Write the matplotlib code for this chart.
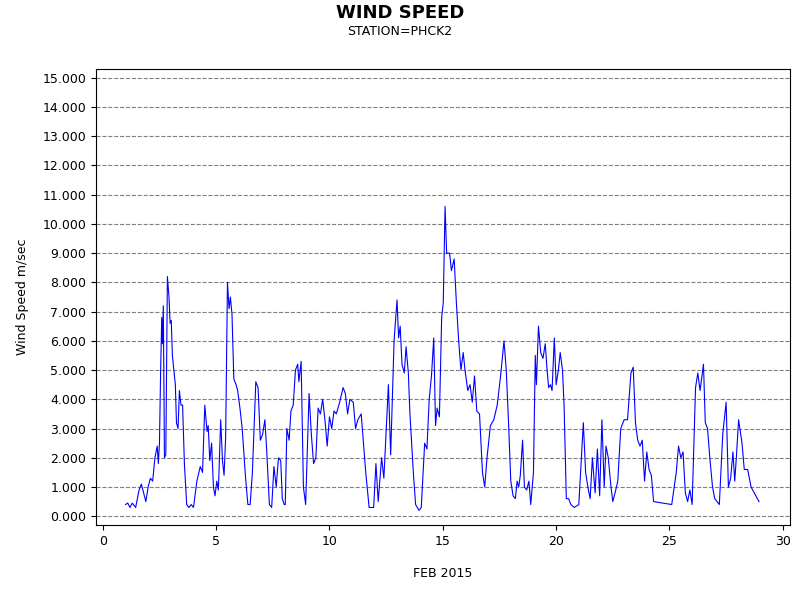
import numpy as np
import matplotlib.pyplot as plt

# (day, wind speed m/s)
points = [
    (1.0, 0.4), (1.1, 0.45), (1.2, 0.3), (1.3, 0.45), (1.45, 0.3), (1.6, 0.9), (1.7, 1.1),
    (1.8, 0.8), (1.9, 0.5), (2.0, 1.0), (2.1, 1.3), (2.2, 1.2), (2.3, 2.0), (2.4, 2.4),
    (2.45, 1.8), (2.5, 2.5), (2.55, 4.9), (2.6, 6.8), (2.63, 5.9), (2.67, 7.2), (2.72, 2.0),
    (2.78, 2.1), (2.85, 8.2), (2.92, 7.5), (2.97, 6.6), (3.02, 6.7), (3.07, 5.5), (3.2, 4.5),
    (3.25, 3.2), (3.32, 3.0), (3.38, 4.3), (3.45, 3.8), (3.52, 3.8), (3.6, 1.8), (3.7, 0.4),
    (3.8, 0.3), (3.9, 0.4), (4.0, 0.3), (4.15, 1.2), (4.3, 1.7), (4.4, 1.5), (4.5, 3.8),
    (4.6, 2.9), (4.65, 3.1), (4.72, 1.9), (4.8, 2.5), (4.88, 1.0), (4.95, 0.7), (5.03, 1.2),
    (5.1, 0.9), (5.2, 3.3), (5.28, 1.9), (5.35, 1.4), (5.42, 2.7), (5.5, 8.0), (5.57, 7.1),
    (5.63, 7.5), (5.7, 6.9), (5.78, 4.7), (5.88, 4.5), (5.95, 4.3), (6.05, 3.7), (6.15, 3.0),
    (6.3, 1.3), (6.4, 0.4), (6.5, 0.4), (6.6, 1.5), (6.75, 4.6), (6.85, 4.4), (6.95, 2.6),
    (7.05, 2.8), (7.15, 3.3), (7.22, 2.4), (7.35, 0.4), (7.45, 0.3), (7.55, 1.7), (7.65, 1.0),
    (7.75, 2.0), (7.85, 1.9), (7.92, 0.6), (8.0, 0.4), (8.05, 0.4), (8.12, 3.0), (8.22, 2.6),
    (8.3, 3.6), (8.4, 3.8), (8.5, 5.0), (8.6, 5.2), (8.65, 4.6), (8.75, 5.3), (8.85, 1.0),
    (8.95, 0.4), (9.1, 4.2), (9.2, 2.8), (9.3, 1.8), (9.4, 2.0), (9.5, 3.7), (9.6, 3.5),
    (9.7, 4.0), (9.8, 3.3), (9.9, 2.4), (10.0, 3.4), (10.1, 3.0), (10.2, 3.6), (10.3, 3.5),
    (10.45, 3.9), (10.6, 4.4), (10.7, 4.2), (10.8, 3.5), (10.9, 4.0), (11.05, 3.9),
    (11.15, 3.0), (11.25, 3.3), (11.4, 3.5), (11.6, 1.5), (11.75, 0.3), (11.95, 0.3),
    (12.05, 1.8), (12.15, 0.5), (12.3, 2.0), (12.4, 1.3), (12.6, 4.5), (12.7, 2.1),
    (12.85, 6.0), (12.98, 7.4), (13.05, 6.1), (13.12, 6.5), (13.2, 5.2), (13.3, 4.9),
    (13.38, 5.8), (13.48, 4.9), (13.55, 3.5), (13.7, 1.5), (13.8, 0.4), (13.95, 0.2),
    (14.05, 0.3), (14.2, 2.5), (14.3, 2.3), (14.4, 4.0), (14.5, 4.8), (14.6, 6.1),
    (14.68, 3.1), (14.75, 3.7), (14.85, 3.4), (14.95, 6.8), (15.02, 7.3), (15.1, 10.6),
    (15.17, 9.0), (15.3, 9.0), (15.38, 8.4), (15.5, 8.8), (15.6, 7.3), (15.7, 6.0),
    (15.8, 5.0), (15.9, 5.6), (15.98, 5.0), (16.1, 4.3), (16.2, 4.5), (16.3, 3.9),
    (16.4, 4.8), (16.5, 3.6), (16.62, 3.5), (16.75, 1.5), (16.85, 1.0), (16.95, 2.0),
    (17.1, 3.1), (17.25, 3.3), (17.4, 3.8), (17.55, 4.8), (17.7, 6.0), (17.8, 5.0),
    (17.9, 3.2), (18.0, 1.2), (18.1, 0.7), (18.2, 0.6), (18.28, 1.2), (18.35, 1.0),
    (18.42, 1.4), (18.52, 2.6), (18.6, 1.0), (18.7, 0.9), (18.8, 1.2), (18.88, 0.4),
    (19.0, 1.5), (19.08, 5.5), (19.13, 4.5), (19.22, 6.5), (19.32, 5.6), (19.42, 5.4),
    (19.52, 5.9), (19.6, 5.0), (19.67, 4.4), (19.75, 4.5), (19.82, 4.3), (19.92, 6.1),
    (20.0, 4.5), (20.1, 5.0), (20.18, 5.6), (20.28, 5.0), (20.35, 3.8), (20.45, 0.6),
    (20.55, 0.6), (20.65, 0.4), (20.8, 0.3), (21.0, 0.4), (21.2, 3.2), (21.3, 1.5),
    (21.4, 1.0), (21.5, 0.6), (21.6, 2.0), (21.72, 0.8), (21.82, 2.3), (21.92, 0.7),
    (22.02, 3.3), (22.12, 1.0), (22.2, 2.4), (22.3, 2.0), (22.42, 1.0), (22.5, 0.5),
    (22.6, 0.8), (22.72, 1.2), (22.85, 3.0), (23.0, 3.3), (23.15, 3.3), (23.3, 4.9),
    (23.4, 5.1), (23.5, 3.2), (23.6, 2.6), (23.7, 2.4), (23.8, 2.6), (23.9, 1.2),
    (24.0, 2.2), (24.1, 1.6), (24.2, 1.4), (24.3, 0.5), (25.1, 0.4), (25.3, 1.5),
    (25.4, 2.4), (25.5, 2.0), (25.6, 2.2), (25.7, 0.8), (25.8, 0.5), (25.9, 0.9),
    (26.0, 0.4), (26.15, 4.4), (26.25, 4.9), (26.35, 4.3), (26.5, 5.2), (26.58, 3.2),
    (26.68, 3.0), (26.78, 2.0), (26.9, 1.0), (27.0, 0.6), (27.1, 0.5), (27.2, 0.4),
    (27.35, 2.8), (27.5, 3.9), (27.6, 1.0), (27.7, 1.3), (27.8, 2.2), (27.88, 1.2),
    (27.95, 2.0), (28.05, 3.3), (28.2, 2.5), (28.3, 1.6), (28.45, 1.6), (28.6, 1.0),
    (28.95, 0.5),
]
days = [p[0] for p in points]
speed = [p[1] for p in points]

fig, ax = plt.subplots(figsize=(8, 6), dpi=100)
fig.subplots_adjust(left=0.12, right=0.987, top=0.885, bottom=0.125)
ax.plot(days, speed, color='blue', linewidth=0.8)
ax.set_xlim(-0.3, 30.3)
ax.set_ylim(-0.3, 15.3)
ax.set_xticks(range(0, 31, 5))
ax.set_yticks(np.arange(0, 16, 1))
ax.set_yticklabels(['%.3f' % v for v in range(16)])
ax.yaxis.grid(True, linestyle='--', color='gray', linewidth=0.8)
ax.set_axisbelow(True)
ax.tick_params(labelsize=9)
ax.set_xlabel('FEB 2015', fontsize=9, labelpad=14)
ax.set_ylabel('Wind Speed m/sec', fontsize=9, labelpad=10)
fig.text(0.5, 0.97, 'WIND SPEED', ha='center', fontsize=13, fontweight='bold')
fig.text(0.5, 0.942, 'STATION=PHCK2', ha='center', fontsize=9)
fig.savefig('out.png')
